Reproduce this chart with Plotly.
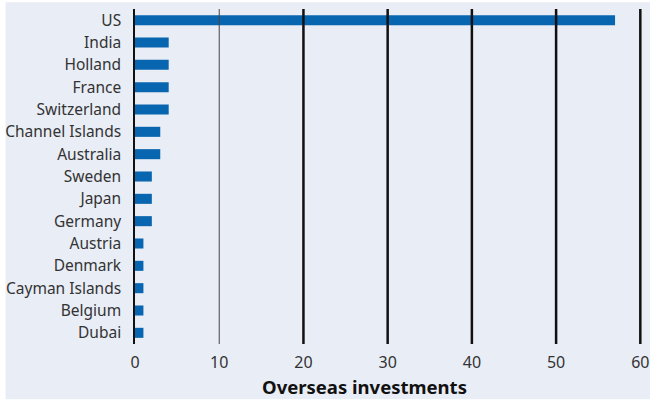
import plotly.graph_objects as go

countries = [
    "US", "India", "Holland", "France", "Switzerland", "Channel Islands",
    "Australia", "Sweden", "Japan", "Germany", "Austria", "Denmark",
    "Cayman Islands", "Belgium", "Dubai",
]
investments = [57, 4, 4, 4, 4, 3, 3, 2, 2, 2, 1, 1, 1, 1, 1]
x_ticks = [0, 10, 20, 30, 40, 50, 60]

_BAR = "#0866b0"
_PANEL = "#e9edf6"
_TEXT = "#333333"

fig = go.Figure()
fig.add_trace(
    go.Bar(
        x=investments,
        y=countries,
        orientation="h",
        marker=dict(color=_BAR, line=dict(width=0)),
        width=0.45,
        hoverinfo="x+y",
    )
)

# panel behind the chart (leaves a thin white rim at left/top/bottom)
fig.add_shape(
    type="rect", xref="paper", yref="paper",
    x0=-0.2554, x1=1.03, y0=-0.165, y1=1.02,
    fillcolor=_PANEL, line=dict(width=0), layer="below",
)

# vertical gridlines: the first one thin, the rest heavy
for t in x_ticks[1:]:
    fig.add_shape(
        type="line", xref="x", yref="paper",
        x0=t, x1=t, y0=0, y1=1,
        line=dict(color="#444444" if t == 10 else "#111111", width=1 if t == 10 else 2.5),
        layer="above",
    )

# axis title sits a little left of the plot centre, as in the source
fig.add_annotation(
    text="<b>Overseas investments</b>",
    xref="paper", yref="paper", x=0.4535, y=-0.085,
    xanchor="center", yanchor="top", showarrow=False,
    font=dict(size=18.5, color="#111111"),
)

fig.update_layout(
    width=650,
    height=405,
    paper_bgcolor="white",
    plot_bgcolor=_PANEL,
    margin=dict(l=135, r=8, t=9, b=61),
    font=dict(family="Noto Sans", color=_TEXT, size=15),
    showlegend=False,
    bargap=0.5,
)
# a touch of headroom past 60 so the last gridline isn't clipped
fig.update_xaxes(
    range=[0, 60.2],
    tickvals=x_ticks,
    showgrid=False,
    zeroline=False,
    showline=False,
    ticks="",
    ticklabelstandoff=7,
    tickfont=dict(size=16),
    automargin=False,
)
fig.update_yaxes(
    autorange="reversed",
    showgrid=False,
    zeroline=False,
    showline=True,
    linecolor="#111111",
    linewidth=1.5,
    ticks="",
    ticklabelstandoff=9,
    tickfont=dict(size=15.5),
    automargin=False,
)

# drop the default page margin so the figure sits at the window's corner
fig.write_html(
    "out.html",
    config={"displayModeBar": False},
    post_script="document.body.style.margin='0';",
)
